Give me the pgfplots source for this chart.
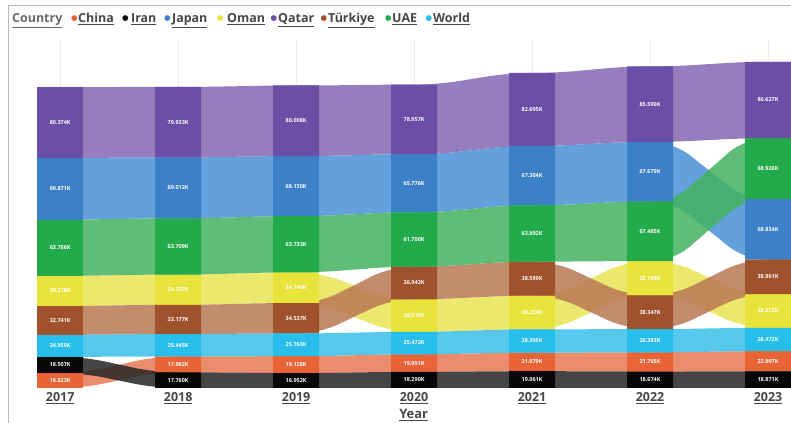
\documentclass[border=0pt]{standalone}
\usepackage{fontspec}
\setmainfont{Open Sans}
\newfontfamily\dejavu{DejaVu Sans}
\usepackage{pgfplots}
\pgfplotsset{compat=1.18}
\usepgfplotslibrary{fillbetween}
\usepackage{pgfplotstable}

% bar colours
\definecolor{bQatar}{RGB}{108,78,166}
\definecolor{bJapan}{RGB}{60,128,200}
\definecolor{bUAE}{RGB}{35,170,75}
\definecolor{bOman}{RGB}{232,228,60}
\definecolor{bTurkiye}{RGB}{160,82,45}
\definecolor{bWorld}{RGB}{40,190,235}
\definecolor{bChina}{RGB}{232,100,55}
\definecolor{bIran}{RGB}{8,8,8}
% ribbon colours (drawn with opacity 0.85)
\definecolor{rQatar}{RGB}{131,102,179}
\definecolor{rJapan}{RGB}{73,143,214}
\definecolor{rUAE}{RGB}{67,178,96}
\definecolor{rOman}{RGB}{231,228,84}
\definecolor{rTurkiye}{RGB}{184,120,84}
\definecolor{rWorld}{RGB}{55,190,231}
\definecolor{rChina}{RGB}{231,120,84}
\definecolor{rIran}{RGB}{37,37,37}
\definecolor{lgray}{RGB}{105,105,105}
\definecolor{dgray}{RGB}{70,70,70}

% i = year index (0 = 2017), e = left/right edge of the bar, lo = base of segment, val = value (K)
\pgfplotstableread{
i e lo val
0 -1 0 16.823
0 1 0 16.823
1 -1 17.760 17.982
1 1 17.760 17.982
2 -1 16.952 19.128
2 1 16.952 19.128
3 -1 18.290 19.951
3 1 18.290 19.951
4 -1 19.061 21.079
4 1 19.061 21.079
5 -1 18.674 21.765
5 1 18.674 21.765
6 -1 18.871 22.907
6 1 18.871 22.907
}\tChina
\pgfplotstableread{
i e lo val
0 -1 16.823 18.507
0 1 16.823 18.507
1 -1 0 17.760
1 1 0 17.760
2 -1 0 16.952
2 1 0 16.952
3 -1 0 18.290
3 1 0 18.290
4 -1 0 19.061
4 1 0 19.061
5 -1 0 18.674
5 1 0 18.674
6 -1 0 18.871
6 1 0 18.871
}\tIran
\pgfplotstableread{
i e lo val
0 -1 35.330 24.950
0 1 35.330 24.950
1 -1 35.742 25.445
1 1 35.742 25.445
2 -1 36.080 25.763
2 1 36.080 25.763
3 -1 38.241 25.472
3 1 38.241 25.472
4 -1 40.140 26.305
4 1 40.140 26.305
5 -1 40.439 26.383
5 1 40.439 26.383
6 -1 41.778 26.472
6 1 41.778 26.472
}\tWorld
\pgfplotstableread{
i e lo val
0 -1 60.280 32.741
0 1 60.280 32.741
1 -1 61.187 33.177
1 1 61.187 33.177
2 -1 61.843 34.537
2 1 61.843 34.537
3 -1 100.632 36.942
3 1 100.632 36.942
4 -1 104.699 38.599
4 1 104.699 38.599
5 -1 66.822 38.347
5 1 66.822 38.347
6 -1 106.523 38.961
6 1 106.523 38.961
}\tTurkiye
\pgfplotstableread{
i e lo val
0 -1 93.021 34.218
0 1 93.021 34.218
1 -1 94.364 34.327
1 1 94.364 34.327
2 -1 96.380 34.740
2 1 96.380 34.740
3 -1 63.713 36.919
3 1 63.713 36.919
4 -1 66.445 38.254
4 1 66.445 38.254
5 -1 105.169 38.759
5 1 105.169 38.759
6 -1 68.250 38.273
6 1 68.250 38.273
}\tOman
\pgfplotstableread{
i e lo val
0 -1 127.239 63.786
0 1 127.239 63.786
1 -1 128.691 63.709
1 1 128.691 63.709
2 -1 131.120 63.733
2 1 131.120 63.733
3 -1 137.574 61.700
3 1 137.574 61.700
4 -1 143.298 63.892
4 1 143.298 63.892
5 -1 143.928 67.485
5 1 143.928 67.485
6 -1 214.318 68.926
6 1 214.318 68.926
}\tUAE
\pgfplotstableread{
i e lo val
0 -1 191.025 69.871
0 1 191.025 69.871
1 -1 192.400 69.012
1 1 192.400 69.012
2 -1 194.853 68.150
2 1 194.853 68.150
3 -1 199.274 65.776
3 1 199.274 65.776
4 -1 207.190 67.304
4 1 207.190 67.304
5 -1 211.413 67.679
5 1 211.413 67.679
6 -1 145.484 68.834
6 1 145.484 68.834
}\tJapan
\pgfplotstableread{
i e lo val
0 -1 260.896 80.374
0 1 260.896 80.374
1 -1 261.412 79.933
1 1 261.412 79.933
2 -1 263.003 80.008
2 1 263.003 80.008
3 -1 265.050 78.957
3 1 265.050 78.957
4 -1 274.494 82.695
4 1 274.494 82.695
5 -1 279.092 85.590
5 1 279.092 85.590
6 -1 283.244 86.627
6 1 283.244 86.627
}\tQatar

\newcommand\ribbon[3]{%
  \addplot[draw=none, forget plot, rounded corners=21bp, name path=#2RT]
    table[x expr=\thisrow{i}+0.195*\thisrow{e}, y expr=\thisrow{lo}+\thisrow{val}]{#1};
  \addplot[draw=none, forget plot, rounded corners=21bp, name path=#2RB]
    table[x expr=\thisrow{i}+0.195*\thisrow{e}, y=lo]{#1};
  \addplot[fill=#3, fill opacity=0.85, draw=none, forget plot] fill between[of=#2RT and #2RB];
}
\newcommand\bars[3]{%
  \addplot[draw=none, forget plot, name path=#2BT]
    table[x expr=\thisrow{i}+0.195*\thisrow{e}, y expr=\thisrow{lo}+\thisrow{val}]{#1};
  \addplot[draw=none, forget plot, name path=#2BB]
    table[x expr=\thisrow{i}+0.195*\thisrow{e}, y=lo]{#1};
  \pgfplotsinvokeforeach{0,...,6}{%
    \addplot[fill=#3, draw=none, forget plot] fill between[of=#2BT and #2BB, soft clip={domain=##1-0.195:##1+0.195}];
  }
}
\newcommand\labels[1]{%
  \addplot[draw=none, forget plot, each nth point=2, filter discard warning=false,
    point meta=explicit,
    nodes near coords={\pgfmathprintnumber[fixed,fixed zerofill,precision=3]{\pgfplotspointmeta}K},
    every node near coord/.append style={anchor=center, text=white, inner sep=0pt,
      font=\bfseries\fontsize{5.5}{6}\selectfont}]
    table[x=i, y expr=\thisrow{lo}+0.5*\thisrow{val}, meta=val]{#1};
}
\newcommand\legitem[4]{% dot x, text x, colour, name
  \node[inner sep=0pt, text=#3, font=\dejavu\fontsize{7.5}{8}\selectfont] at (#1bp,369.5bp) {●};
  \node[anchor=base west, inner sep=0pt, text=dgray, font=\bfseries\fontsize{12.5}{14}\selectfont] at (#2bp,365bp) {\underline{#4}};
}

\begin{document}
\begin{tikzpicture}
\begin{axis}[
  scale only axis, width=778bp, height=348bp,
  xmin=-0.4, xmax=6.195, ymin=0, ymax=394.6,
  axis line style={draw=none},
  ytick=\empty,
  xtick={0,...,6},
  xticklabels={\underline{2017},\underline{2018},\underline{2019},\underline{2020},\underline{2021},\underline{2022},\underline{2023}},
  major tick length=0pt,
  xmajorgrids, grid style={gray!15, line width=0.6bp},
  x tick label style={font=\bfseries\fontsize{12.5}{15}\selectfont, text=dgray, yshift=-1bp},
  xlabel={\underline{\textbf{Year}}},
  every axis x label/.style={at={(axis description cs:0.515,0)}, anchor=north, yshift=-18bp,
    font=\fontsize{13}{15}\selectfont, text=dgray},
  /pgf/number format/assume math mode=true,
]
\ribbon{\tChina}{china}{rChina}
\ribbon{\tIran}{iran}{rIran}
\ribbon{\tJapan}{japan}{rJapan}
\ribbon{\tOman}{oman}{rOman}
\ribbon{\tQatar}{qatar}{rQatar}
\ribbon{\tTurkiye}{turkiye}{rTurkiye}
\ribbon{\tUAE}{uae}{rUAE}
\ribbon{\tWorld}{world}{rWorld}
\bars{\tChina}{china}{bChina}
\bars{\tIran}{iran}{bIran}
\bars{\tJapan}{japan}{bJapan}
\bars{\tOman}{oman}{bOman}
\bars{\tQatar}{qatar}{bQatar}
\bars{\tTurkiye}{turkiye}{bTurkiye}
\bars{\tUAE}{uae}{bUAE}
\bars{\tWorld}{world}{bWorld}
\labels{\tChina}
\labels{\tIran}
\labels{\tJapan}
\labels{\tOman}
\labels{\tQatar}
\labels{\tTurkiye}
\labels{\tUAE}
\labels{\tWorld}
\end{axis}
\node[anchor=base west, inner sep=0pt, text=lgray, font=\bfseries\fontsize{12.5}{14}\selectfont] at (-1bp,365bp) {\underline{Country}};
\legitem{61.5}{65}{bChina}{China}
\legitem{112.5}{118}{bIran}{Iran}
\legitem{154.5}{159}{bJapan}{Japan}
\legitem{207.5}{214}{bOman}{Oman}
\legitem{261}{265}{bQatar}{Qatar}
\legitem{311}{315}{bTurkiye}{Türkiye}
\legitem{375.5}{379}{bUAE}{UAE}
\legitem{416}{420}{bWorld}{World}
\draw[gray!55, line width=0.9bp] (-5bp,-35bp) -- (-5bp,383bp) -- (778bp,383bp);
\pgfresetboundingbox
\path[use as bounding box] (-13bp,-35bp) rectangle (778bp,388bp);
\end{tikzpicture}
\end{document}
